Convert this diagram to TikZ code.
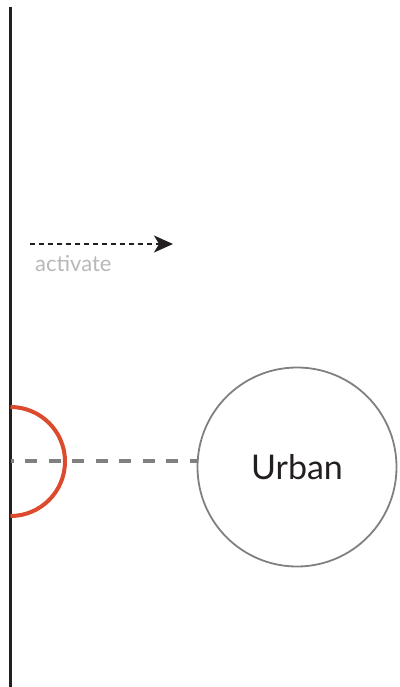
\documentclass[tikz,border=0pt]{standalone}
\usepackage{fontspec}
\setmainfont{Lato}
\usepackage{tikz}
\usetikzlibrary{arrows.meta,positioning}

\definecolor{axisblack}{RGB}{35,31,32}
\definecolor{linkgray}{RGB}{128,128,128}
\definecolor{arcred}{RGB}{220,75,45}

\begin{document}
\begin{tikzpicture}[x=1pt,y=-1pt,
	timeline/.style={line width=3pt,axisblack},
	actarrow/.style={line width=1.8pt,axisblack,dash pattern=on 5pt off 4pt,
		-{Stealth[length=19pt,width=17pt,inset=5pt]}},
	linkline/.style={line width=4pt,linkgray,dash pattern=on 12pt off 11.5pt,dash phase=9pt},
	place/.style={circle,draw=linkgray,line width=1.8pt,minimum size=199pt,
		inner sep=0pt,font=\fontsize{34}{34}\selectfont,text=axisblack}]
	\useasboundingbox (0,0) rectangle (399,687);
	% vertical time line
	\coordinate (top) at (10.5,7);
	\coordinate (bottom) at (10.5,687);
	\draw[timeline] (top) -- (bottom);
	% legend: activate
	\coordinate (actfrom) at (30,244);
	\coordinate (actto) at (173,244);
	\draw[actarrow] (actfrom) -- (actto);
	\node[anchor=north west,inner sep=0pt,text=black!28,
		font=\fontsize{22}{22}\selectfont] (actlabel) at (35,255) {activate};
	% urban node
	\node[place] (urban) at (297,467) {Urban};
	% link to time line
	\coordinate (hook) at (10.5,461);
	\draw[linkline] (hook) -- (urban.west |- hook);
	% red half circle
	\draw[arcred,line width=4pt] (10.5,407) arc[start angle=-90,end angle=90,radius=54.5];
\end{tikzpicture}
\end{document}
